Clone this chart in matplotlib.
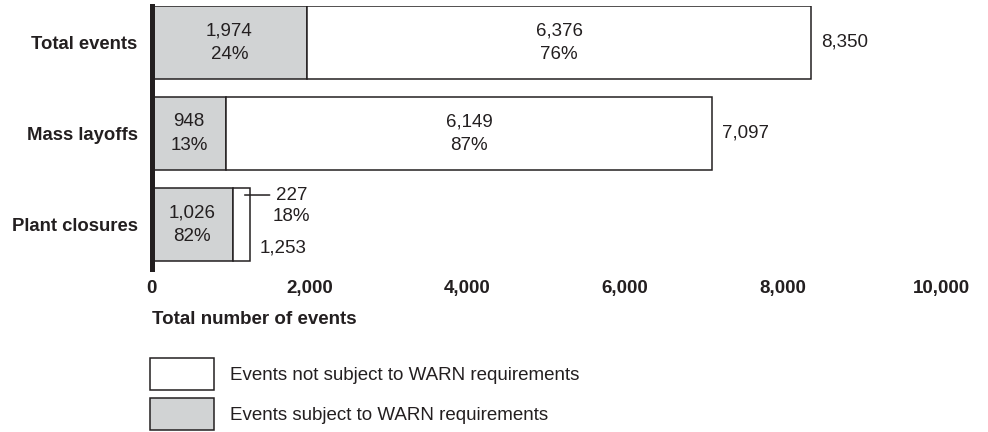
import matplotlib
matplotlib.use("Agg")
import matplotlib.pyplot as plt
from matplotlib.patches import Rectangle

plt.rcParams["font.family"] = ["Liberation Sans", "DejaVu Sans"]
INK = "#231f20"; GRAY = "#d1d3d4"

categories = ["Total events", "Mass layoffs", "Plant closures"]
subject = [1974, 948, 1026]
not_subject = [6376, 6149, 227]
subject_pct = [24, 13, 82]
not_pct = [76, 87, 18]
totals = [8350, 7097, 1253]
xticks = [0, 2000, 4000, 6000, 8000, 10000]

W, H = 988, 432
FS = 13.5
fig = plt.figure(figsize=(W/100, H/100), dpi=100)
ax = fig.add_axes([151.5/W, 1-269/H, 789.5/W, 263/H])
px = 0.72  # points per pixel

y = list(range(len(categories)))
ax.barh(y, subject, height=0.8, color=GRAY, edgecolor=INK, lw=1.1)
ax.barh(y, not_subject, left=subject, height=0.8, color="white", edgecolor=INK, lw=1.1)

for i in y:
    ax.text(subject[i]/2, i, f"{subject[i]:,}\n{subject_pct[i]}%", ha="center", va="center",
            fontsize=FS, color=INK, linespacing=1.5)
    if not_subject[i] > 1000:
        ax.text(subject[i]+not_subject[i]/2, i, f"{not_subject[i]:,}\n{not_pct[i]}%", ha="center",
                va="center", fontsize=FS, color=INK, linespacing=1.5)
        ax.annotate(f"{totals[i]:,}", (totals[i], i), xytext=(10*px, 0), textcoords="offset points",
                    ha="left", va="center", fontsize=FS, color=INK)
    else:
        # narrow segment: label outside with a leader line
        ax.annotate(f"{not_subject[i]:,}\n{not_pct[i]}%", (totals[i], i), xytext=(41*px, 18.5*px),
                    textcoords="offset points", ha="center", va="center", fontsize=FS, color=INK,
                    linespacing=1.3)
        ax.annotate("", (subject[i]+not_subject[i]*0.68, i-0.324), xytext=(25*px, 0), textcoords="offset points",
                    arrowprops=dict(arrowstyle="-", color=INK, lw=1.1, shrinkA=0, shrinkB=0))
        ax.annotate(f"{totals[i]:,}", (totals[i], i), xytext=(9*px, -24*px), textcoords="offset points",
                    ha="left", va="center", fontsize=FS, color=INK)

ax.set_xlim(0, 10000)
ax.set_ylim(2.489, -0.401)
ax.set_yticks(y)
ax.set_yticklabels(categories, fontsize=13.3, fontweight="bold", color=INK)
ax.set_xticks(xticks)
ax.set_xticklabels([f"{t:,}" for t in xticks], fontsize=FS, fontweight="bold", color=INK)
ax.tick_params(axis="x", length=0, pad=8)
ax.tick_params(axis="y", length=0, pad=10)
for s in ["top", "right", "bottom"]:
    ax.spines[s].set_visible(False)
ax.spines["left"].set_linewidth(3.6)
ax.spines["left"].set_color(INK)
ax.spines["left"].set_zorder(5)

fig.text(152/W, 1-320/H, "Total number of events", fontsize=FS, fontweight="bold", color=INK,
         ha="left", va="center")

legend = [("white", "Events not subject to WARN requirements", 358),
          (GRAY, "Events subject to WARN requirements", 398)]
for fc, label, top in legend:
    fig.add_artist(Rectangle((149.5/W, 1-(top+32)/H), 64/W, 32/H, transform=fig.transFigure,
                             facecolor=fc, edgecolor=INK, lw=1.1))
    fig.text(230/W, 1-(top+17)/H, label, fontsize=FS, color=INK, ha="left", va="center")

fig.savefig("out.png", dpi=100)
